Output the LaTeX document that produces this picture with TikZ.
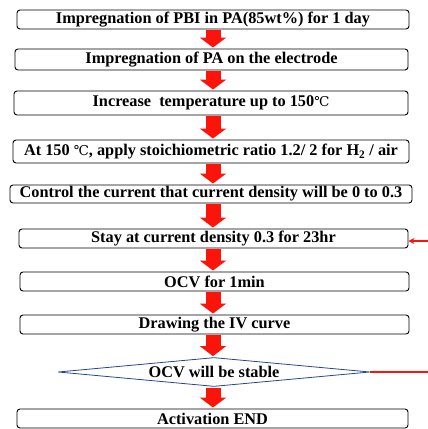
\documentclass[tikz,border=0pt]{standalone}
\usepackage{fontspec}
\setmainfont{Liberation Serif}
\newfontfamily\celsiusfont{DejaVu Serif}
\usetikzlibrary{shapes.geometric,arrows.meta}
\newcommand{\degC}{{\celsiusfont\mdseries\fontsize{13.5}{15}\selectfont ℃}}
\definecolor{flowred}{RGB}{250,20,10}
\definecolor{diamblue}{RGB}{40,70,140}
\begin{document}
\begin{tikzpicture}[x=1pt,y=-1pt,
  stepbox/.style={draw=black, line width=0.9pt, rounded corners=3pt, inner sep=0pt,
    font=\bfseries\fontsize{16.3}{18}\selectfont},
  decbox/.style={draw=diamblue, line width=0.8pt, shape=diamond, inner sep=0pt, aspect=10.7,
    font=\bfseries\fontsize{16.3}{18}\selectfont},
  blockarrow/.style={draw=flowred, line width=15pt, shorten <=1pt, shorten >=1pt,
    -{Triangle[width=26pt,length=10pt]}},
  backline/.style={draw=flowred, line width=1.6pt},
]
\useasboundingbox (0,0) rectangle (428,429);

\node[stepbox, minimum width=392, minimum height=19] (b1) at (213,19.5) {Impregnation\ of PBI in PA(85wt\%) for 1 day};
\node[stepbox, minimum width=393, minimum height=21] (b2) at (211.5,59.5) {Impregnation\ of PA on the electrode};
\node[stepbox, minimum width=394, minimum height=24] (b3) at (211,103) {Increase\ \ temperature up to 150\degC};
\node[stepbox, minimum width=396, minimum height=23] (b4) at (211,151.5) {At 150 \degC, apply stoichiometric ratio 1.2/ 2 for H$_{\mathbf 2}$ / air};
\node[stepbox, minimum width=402, minimum height=18] (b5) at (211,194) {Control the current that current density will be 0 to 0.3};
\node[stepbox, minimum width=389, minimum height=19] (b6) at (213.5,238.5) {Stay at current density 0.3 for 23hr};
\node[stepbox, minimum width=389, minimum height=19] (b7) at (214.5,281.5) {OCV for 1min};
\node[stepbox, minimum width=389, minimum height=19] (b8) at (214.5,324.5) {Drawing the IV curve};
\node[decbox, minimum width=312, minimum height=29] (d1) at (214,372) {OCV will be stable};
\node[stepbox, minimum width=391, minimum height=19] (b9) at (212.5,418.5) {Activation END};

\draw[blockarrow] (213,0 |- b1.south) -- (213,0 |- b2.north);
\draw[blockarrow] (213,0 |- b2.south) -- (213,0 |- b3.north);
\draw[blockarrow] (213,0 |- b3.south) -- (213,0 |- b4.north);
\draw[blockarrow] (213,0 |- b4.south) -- (213,0 |- b5.north);
\draw[blockarrow] (213,0 |- b5.south) -- (213,0 |- b6.north);
\draw[blockarrow] (213,0 |- b6.south) -- (213,0 |- b7.north);
\draw[blockarrow] (213,0 |- b7.south) -- (213,0 |- b8.north);
\draw[blockarrow] (213,0 |- b8.south) -- (213,0 |- d1.north);
\draw[blockarrow] (213,0 |- d1.south) -- (213,0 |- b9.north);

\coordinate (r1) at (428,372);
\coordinate (r2) at (428,241);
\draw[backline] (d1.east) -- (r1);
\draw[backline, -{Stealth[length=6pt,width=6pt]}] (r2) -- (b6.east |- r2);
\end{tikzpicture}
\end{document}
